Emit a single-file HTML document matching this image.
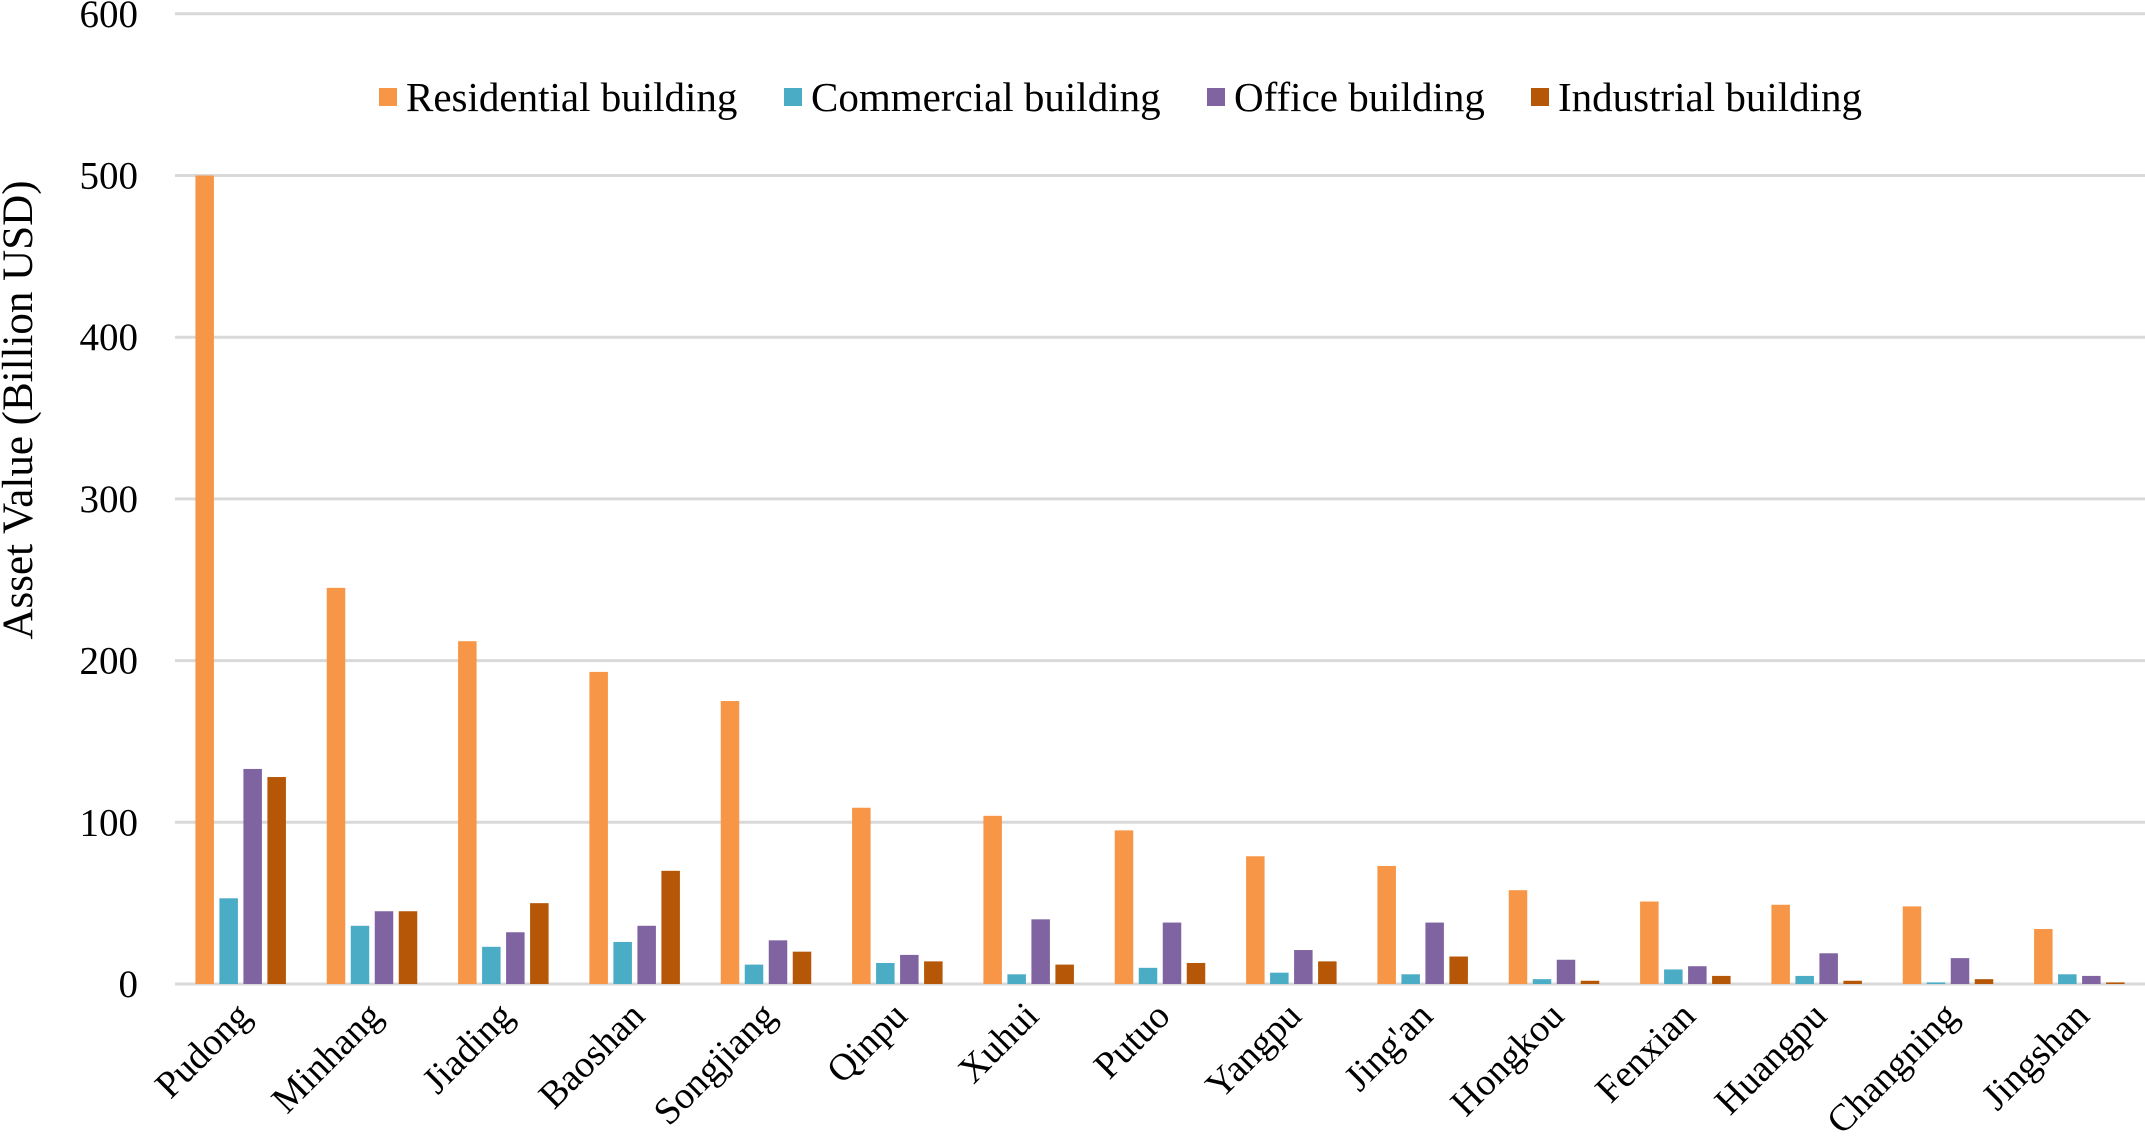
<!DOCTYPE html>
<html><head><meta charset="utf-8"><style>
html,body{margin:0;padding:0;background:#fff;}
svg{display:block;font-family:"Liberation Serif",serif;}
</style></head><body>
<svg id="chart" width="2145" height="1137" viewBox="0 0 2145 1137" xmlns="http://www.w3.org/2000/svg">
<g id="grid"></g>
<g id="yticks"></g>
<text transform="translate(32,410) rotate(-90)" text-anchor="middle" font-size="43">Asset Value (Billion USD)</text>
<g id="bars"></g>
<g id="xlabels"></g>
<g id="legend"></g>
</svg>
<script>
const categories = ["Pudong","Minhang","Jiading","Baoshan","Songjiang","Qinpu","Xuhui","Putuo","Yangpu","Jing'an","Hongkou","Fenxian","Huangpu","Changning","Jingshan"];
const residential = [500,245,212,193,175,109,104,95,79,73,58,51,49,48,34];
const commercial = [53,36,23,26,12,13,6,10,7,6,3,9,5,1,6];
const office = [133,45,32,36,27,18,40,38,21,38,15,11,19,16,5];
const industrial = [128,45,50,70,20,14,12,13,14,17,2,5,2,3,1];
const seriesNames = ["Residential building","Commercial building","Office building","Industrial building"];
const yTicks = [0,100,200,300,400,500,600];

const series = [residential, commercial, office, industrial];
const colors = ["#f79646","#4bacc6","#8064a2","#b65708"];
const NS = "http://www.w3.org/2000/svg";
const plotL = 175, plotR = 2145, y0 = 984, pxPer = 1.617;
const groupW = (plotR - plotL) / categories.length;
function yScale(v){ return y0 - v * pxPer; }
function xCenter(i){ return plotL + groupW * (i + 0.5); }
function mk(tag, attrs, parent){ const e = document.createElementNS(NS, tag); for (const k in attrs) e.setAttribute(k, attrs[k]); parent.appendChild(e); return e; }

const grid = document.getElementById('grid');
const yt = document.getElementById('yticks');
yTicks.forEach(t => {
  const l = mk('line', {x1: plotL, x2: plotR, y1: yScale(t), y2: yScale(t), stroke: '#d9d9d9', 'stroke-width': 3}, grid);
  
  
  const tx = mk('text', {x: 138, y: yScale(t) + 13, 'text-anchor': 'end', 'font-size': 39}, yt);
  tx.textContent = t;
  
  
});

const bars = document.getElementById('bars');
const bw = 18.5, pitch = 24;
categories.forEach((c, i) => {
  const cx = xCenter(i);
  series.forEach((s, j) => {
    const x = cx - 45.25 + j * pitch;
    const r = mk('rect', {x: x, y: yScale(s[i]), width: bw, height: s[i] * pxPer, fill: colors[j]}, bars);
    
    
  });
});

const xl = document.getElementById('xlabels');
categories.forEach((c, i) => {
  const x = xCenter(i) + 12, y = 1018;
  const t = mk('text', {x: 0, y: 0, 'text-anchor': 'end', 'font-size': 38, transform: 'translate(' + x + ',' + y + ') rotate(-45)'}, xl);
  t.textContent = c;
  
  
});

const lg = document.getElementById('legend');
const lgX = [379, 784, 1207, 1531];
seriesNames.forEach((n, j) => {
  const g = mk('g', {}, lg);
  
  
  mk('rect', {x: lgX[j], y: 88, width: 18, height: 18, fill: colors[j]}, g);
  const t = mk('text', {x: lgX[j] + 27, y: 111, 'font-size': 41}, g);
  t.textContent = n;
});
</script>
</body></html>
